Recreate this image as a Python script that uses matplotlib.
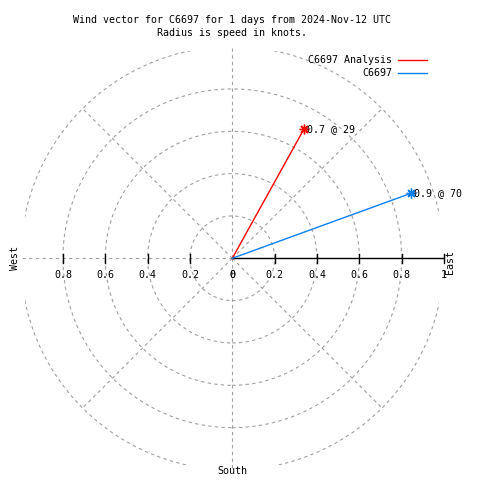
import numpy as np
import matplotlib
matplotlib.use('Agg')
import matplotlib.pyplot as plt
from matplotlib.patches import Circle, Rectangle

# data
series_names = ["C6697 Analysis", "C6697"]
series_colors = ["#ff0000", "#0a80f0"]
speeds = [0.7, 0.9]          # knots
directions = [29, 70]        # degrees clockwise from north
point_labels = ["0.7 @ 29", "0.9 @ 70"]

ring_radii = [0.2, 0.4, 0.6, 0.8, 1.0]
spoke_angles = [0, 45, 90, 135, 180, 225, 270, 315]
east_ticks = [0, 0.2, 0.4, 0.6, 0.8, 1.0]
east_tick_labels = ["0", "0.2", "0.4", "0.6", "0.8", "1"]
west_ticks = [0, 0.2, 0.4, 0.6, 0.8]
west_tick_labels = ["0", "0.2", "0.4", "0.6", "0.8"]

title_lines = ["Wind vector for C6697 for 1 days from 2024-Nov-12 UTC",
               "Radius is speed in knots."]

plt.rcParams['font.family'] = ['DejaVu Sans Mono']
plt.rcParams['font.size'] = 7.2

W = H = 480
cx, cy, scale = 232.3, 258.3, 211.7   # centre pixel and pixels per knot

fig = plt.figure(figsize=(W / 100, H / 100), dpi=100)
ax = fig.add_axes([0, 0, 1, 1])
ax.set_xlim(-cx / scale, (W - cx) / scale)
ax.set_ylim(-(H - cy) / scale, cy / scale)
ax.axis('off')

grid_kw = dict(color='#a0a0a0', lw=0.8, ls=(0, (3, 3)))

# rings, clipped to the plot square like gnuplot does
clip = Rectangle((-0.978, -0.978), 1.956, 1.956, transform=ax.transData)
for r in ring_radii:
    c = Circle((0, 0), r, fill=False, ec=grid_kw['color'], lw=grid_kw['lw'],
               ls=grid_kw['ls'], zorder=1)
    ax.add_patch(c)
    c.set_clip_path(clip)

for a in spoke_angles:
    t = np.radians(a)
    ax.plot([0, np.sin(t)], [0, np.cos(t)], zorder=1, **grid_kw)

# east axis with ticks, west side only ticks
tl = 0.021
ax.plot([0, 1], [0, 0], color='k', lw=1, zorder=2)
for v, lab in zip(east_ticks, east_tick_labels):
    if v > 0:
        ax.plot([v, v], [-tl, tl], color='k', lw=1, zorder=2)
    ax.text(v, -0.081, lab, ha='center', va='center')
for v, lab in zip(west_ticks, west_tick_labels):
    if v > 0:
        ax.plot([-v, -v], [-tl, tl], color='k', lw=1, zorder=2)
    ax.text(-v, -0.081, lab, ha='center', va='center')

# wind vectors
for name, col, s, d, lab in zip(series_names, series_colors, speeds,
                                directions, point_labels):
    t = np.radians(d)
    x, y = s * np.sin(t), s * np.cos(t)
    ax.plot([0, x], [0, y], color=col, lw=1, label=name, zorder=3)
    ax.plot(x, y, marker=(8, 2, 0), ms=7, mew=1, color=col, zorder=3)
    ax.text(x + 0.012, y, lab, ha='left', va='center', zorder=4)

ax.legend(loc='upper right', bbox_to_anchor=(427 / W, 1 - 55 / H),
          bbox_transform=fig.transFigure, frameon=False, markerfirst=False,
          handlelength=2.9, handletextpad=0.6, labelspacing=0.35,
          borderpad=0, borderaxespad=0)

fig.text(232 / W, 1 - 20 / H, title_lines[0], ha='center', va='center')
fig.text(232 / W, 1 - 33 / H, title_lines[1], ha='center', va='center')
fig.text(15 / W, 1 - 258 / H, "West", rotation=90, ha='center', va='center')
fig.text(450 / W, 1 - 262 / H, "East", rotation=90, ha='center', va='center')
fig.text(232 / W, 1 - 471 / H, "South", ha='center', va='center')

plt.savefig('out.png', dpi=100)
